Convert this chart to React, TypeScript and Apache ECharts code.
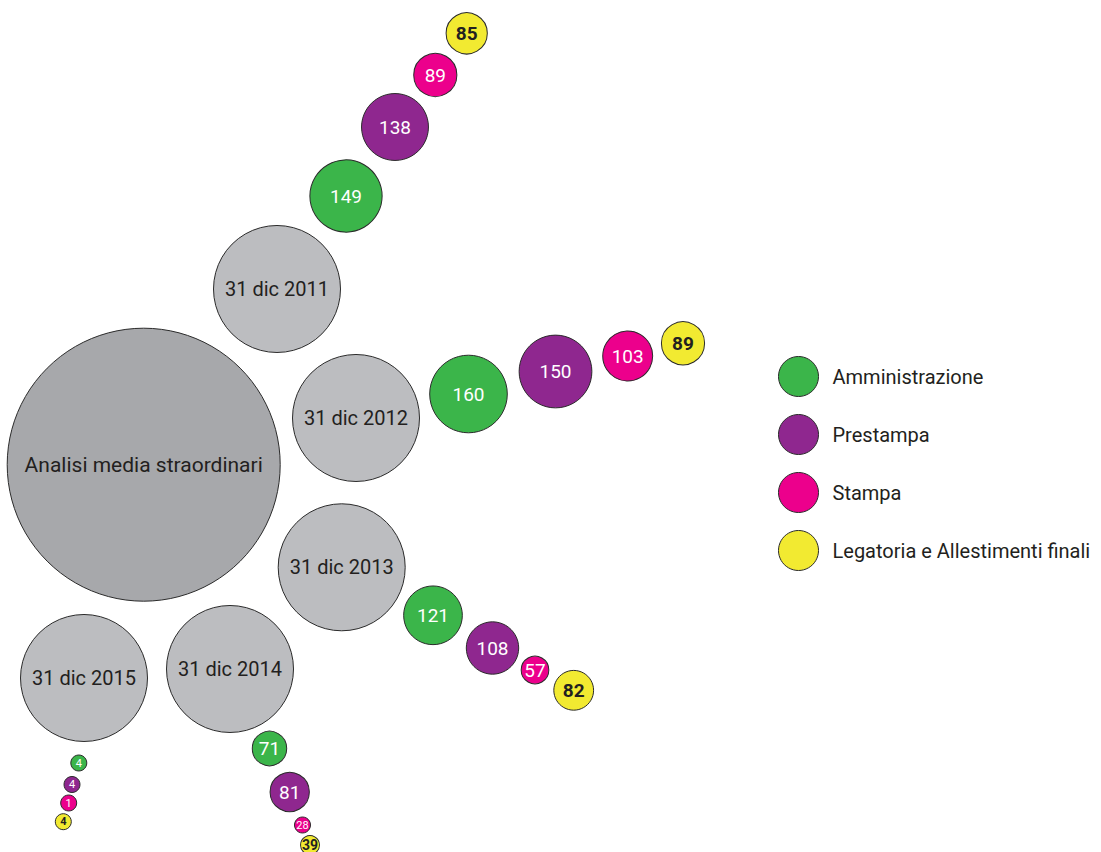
import React, { useEffect, useRef } from "react";
import * as echarts from "echarts";

// ---- data ----
const centerLabel = "Analisi media straordinari";
const years = ["31 dic 2011", "31 dic 2012", "31 dic 2013", "31 dic 2014", "31 dic 2015"];
const departments = ["Amministrazione", "Prestampa", "Stampa", "Legatoria e Allestimenti finali"];
const amministrazione = [149, 160, 121, 71, 4];
const prestampa = [138, 150, 108, 81, 4];
const stampa = [89, 103, 57, 28, 1];
const legatoria = [85, 89, 82, 39, 4];
const deptValues = [amministrazione, prestampa, stampa, legatoria];

// ---- layout (bubble centres in layout units) ----
const centerPos = [143.7, 464.7];
const yearPos = [
  [277, 289],
  [356, 418],
  [341.7, 567.3],
  [230, 669],
  [84, 678],
];
const deptPos = [
  [[346, 196], [468.5, 394], [433, 615.3], [269.5, 748.5], [78.8, 763]],
  [[395, 127], [555.5, 371.5], [492.5, 648], [289.7, 792], [72, 784.5]],
  [[435.3, 75], [627.7, 356], [535, 670], [302.5, 825], [68.7, 803]],
  [[466.7, 33.3], [683, 343.3], [573.7, 690.3], [310, 845], [63.3, 821.7]],
];

// ---- styles ----
const colors = ["#3bb54a", "#8f278f", "#ec008c", "#f2ea31"];
const FONT = "Roboto";
const INK = "#231f20";
const BORDER = { borderColor: "#2b2b2b", borderWidth: 1, opacity: 1 };

function bubbleDiameter(v: number) {
  return Math.max(v * 0.485, 16);
}
function labelSize(v: number) {
  const d = bubbleDiameter(v);
  return d >= 27 ? 19 : d > 18 ? 14 : 11;
}

export default function App() {
  const ref = useRef<HTMLDivElement>(null);
  useEffect(() => {
    if (!ref.current) return;
    const chart = echarts.init(ref.current, undefined, { renderer: "svg" });

    const greySeries = {
      type: "scatter",
      name: "centri",
      z: 1,
      silent: true,
      data: [
        {
          value: centerPos,
          name: centerLabel,
          symbolSize: 273,
          itemStyle: { color: "#a7a8ab", ...BORDER },
          label: { fontSize: 21 },
        },
        ...years.map((y, i) => ({
          value: yearPos[i],
          name: y,
          symbolSize: 127,
          itemStyle: { color: "#bcbdc0", ...BORDER },
        })),
      ],
      label: {
        show: true,
        position: "inside",
        formatter: (p: any) => p.name,
        color: INK,
        fontFamily: FONT,
        fontWeight: "normal",
        fontSize: 20,
      },
    };

    const deptSeries = departments.map((d, k) => ({
      type: "scatter",
      name: d,
      z: 2,
      silent: true,
      itemStyle: { color: colors[k], ...BORDER },
      symbolSize: (val: number[]) => bubbleDiameter(val[2]),
      data: deptValues[k].map((v, i) => ({
        value: [deptPos[k][i][0], deptPos[k][i][1], v],
        label: { fontSize: labelSize(v) },
      })),
      label: {
        show: true,
        position: "inside",
        formatter: (p: any) => String(p.value[2]),
        color: k === 3 ? INK : "#ffffff",
        fontWeight: k === 3 ? "bold" : "normal",
        fontFamily: FONT,
      },
    }));

    chart.setOption({
      animation: false,
      backgroundColor: "#ffffff",
      grid: { left: 0, right: 0, top: 0, bottom: 0 },
      xAxis: { type: "value", min: 0, max: 1101, show: false },
      yAxis: { type: "value", min: 0, max: 852, inverse: true, show: false },
      legend: {
        data: departments,
        orient: "vertical",
        left: 773,
        top: 351,
        icon: "circle",
        itemWidth: 40,
        itemHeight: 40,
        itemGap: 17,
        selectedMode: false,
        itemStyle: { ...BORDER },
        textStyle: {
          fontFamily: FONT,
          fontSize: 20,
          fontWeight: "normal",
          color: INK,
          padding: [0, 0, 0, 9],
        },
      },
      series: [greySeries, ...deptSeries],
    });
    return () => chart.dispose();
  }, []);
  return (
    <div
      ref={ref}
      style={{ position: "fixed", left: 0, top: 0, width: 1101, height: 852 }}
    />
  );
}
